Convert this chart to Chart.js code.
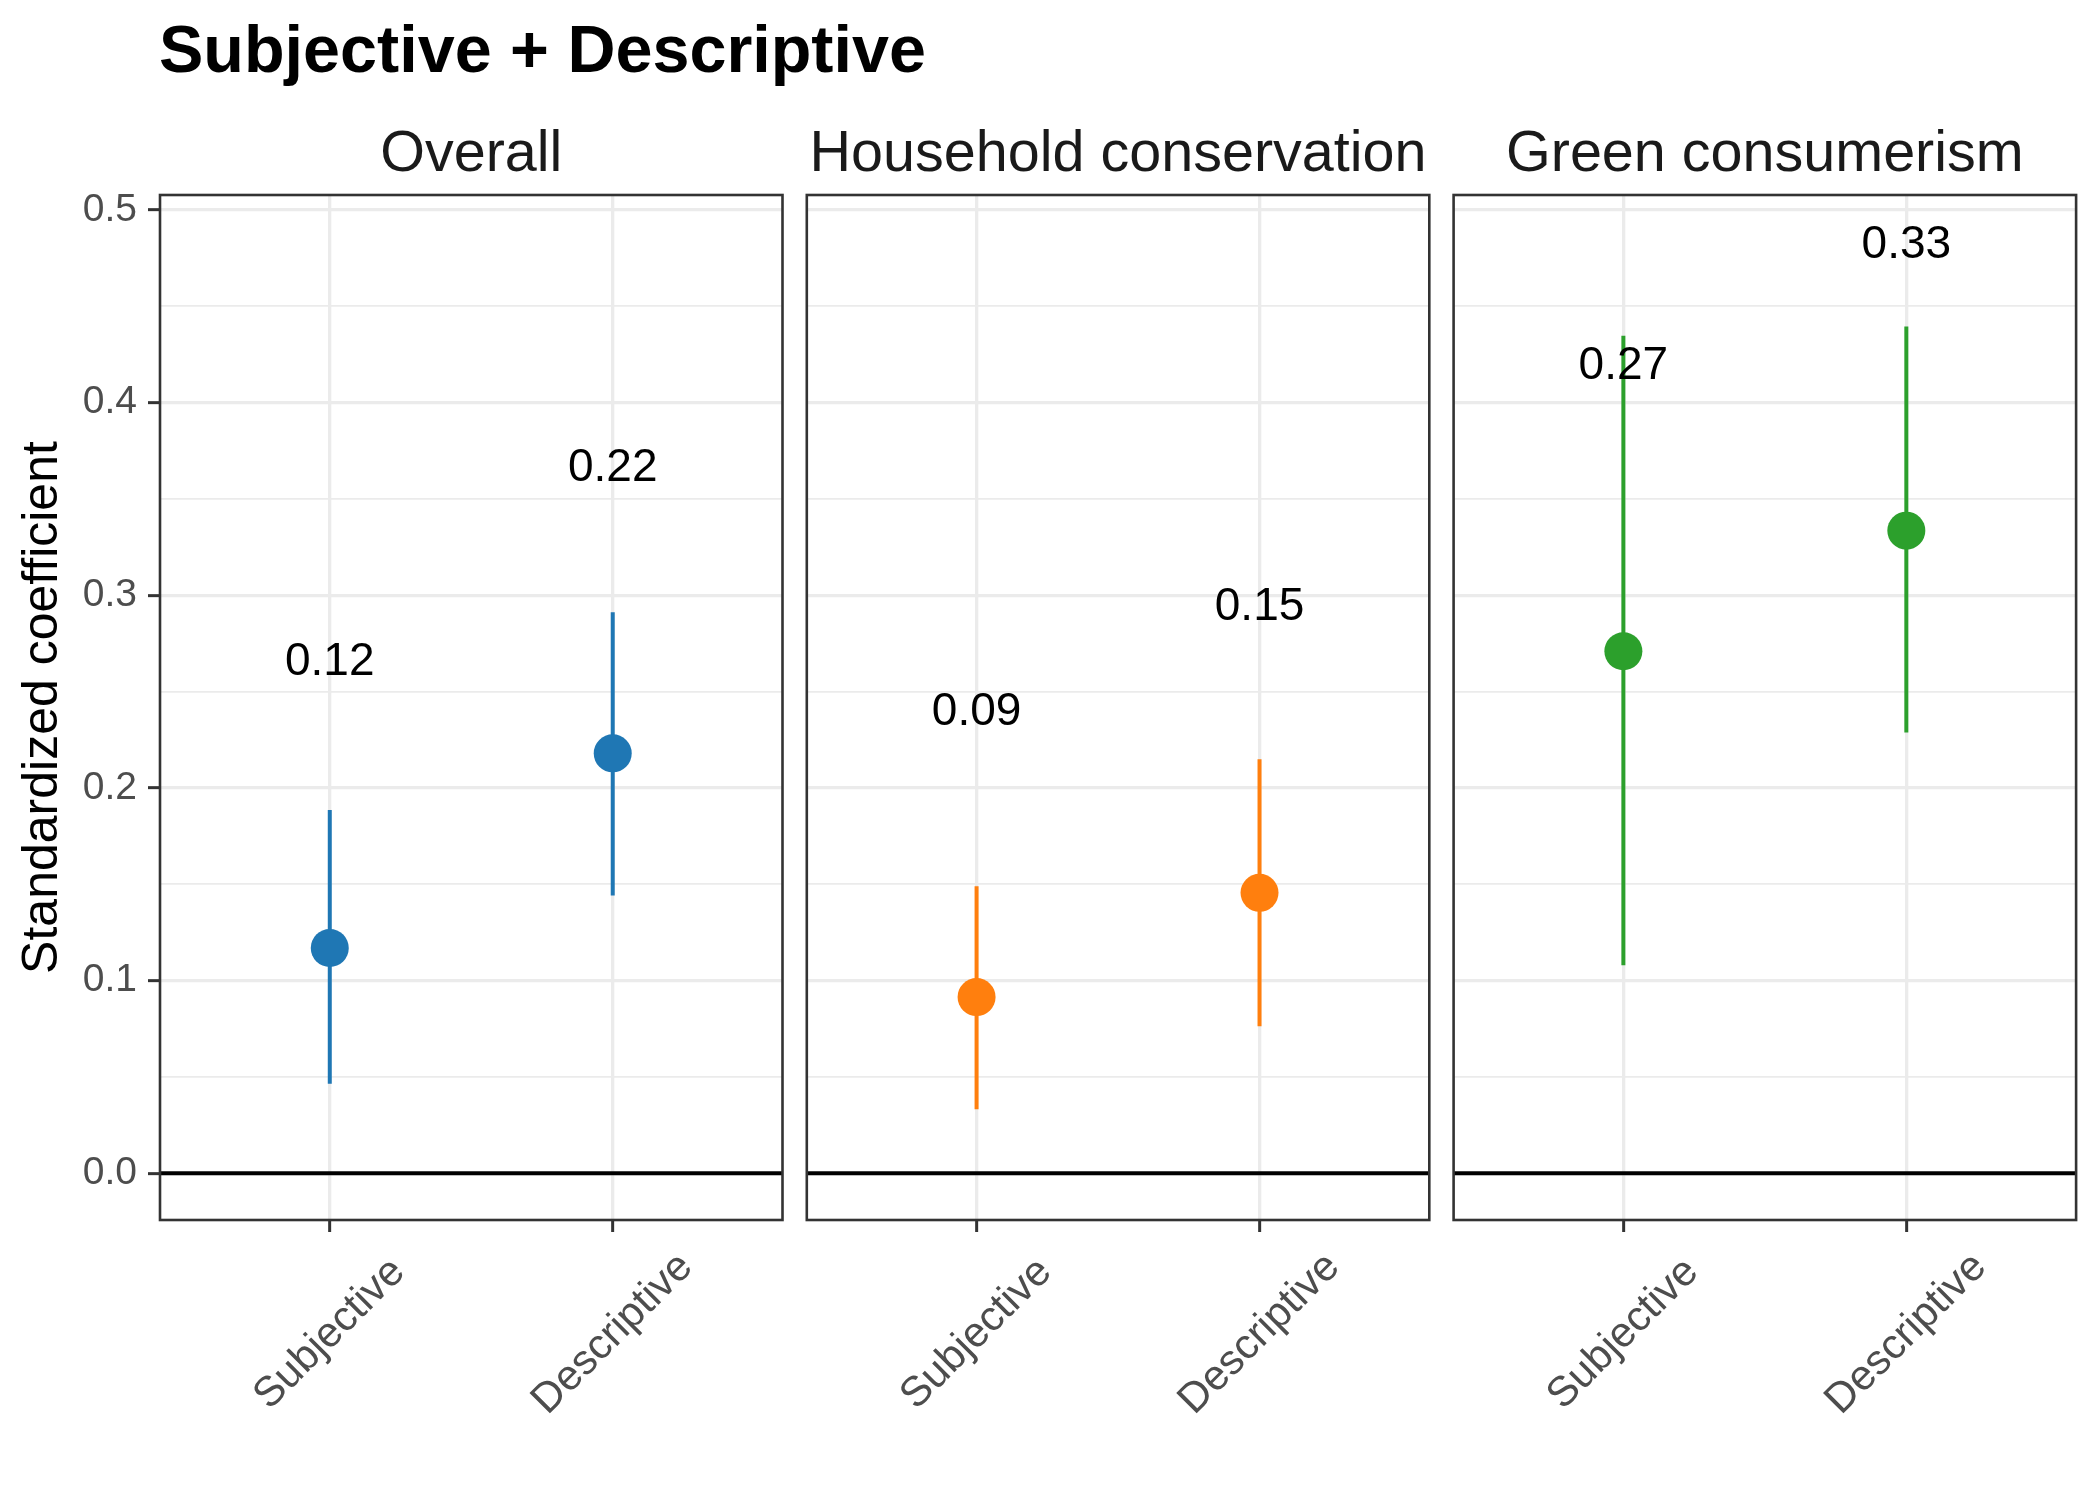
<!DOCTYPE html>
<html>
<head>
<meta charset="utf-8">
<title>Subjective + Descriptive</title>
<script src="https://cdn.jsdelivr.net/npm/chart.js@4/dist/chart.umd.min.js"></script>
<style>
  html, body { margin: 0; padding: 0; background: #ffffff; }
  #wrap { position: relative; width: 2100px; height: 1500px; }
  #wrap canvas { position: absolute; left: 0; top: 0; }
</style>
</head>
<body>
<div id="wrap">
  <canvas id="panel0" width="2100" height="1500"></canvas>
  <canvas id="panel1" width="2100" height="1500"></canvas>
  <canvas id="panel2" width="2100" height="1500"></canvas>
</div>
<script>
    // Data
    const mainTitle = 'Subjective + Descriptive';
    const yAxisTitle = 'Standardized coefficient';
    const panelTitles = ['Overall', 'Household conservation', 'Green consumerism'];
    const categories = ['Subjective', 'Descriptive'];
    const catPositions = [1, 2];

    const estimates = [
        [0.117, 0.218],
        [0.0915, 0.1456],
        [0.271, 0.3336]
    ];
    const lowerCI = [
        [0.0465, 0.1442],
        [0.0333, 0.0763],
        [0.108, 0.2288]
    ];
    const upperCI = [
        [0.1886, 0.2913],
        [0.149, 0.215],
        [0.4347, 0.4396]
    ];

    const yTicks = [0, 0.1, 0.2, 0.3, 0.4, 0.5];
    const yMinorTicks = [0.05, 0.15, 0.25, 0.35, 0.45];
    const referenceLine = 0;
    const labelOffset = 0.15;

    // Look and layout
    const panelColors = ['#1f77b4', '#ff7f0e', '#2ca02c'];
    const panelLeft = [160, 806.8, 1453.6];
    const panelWidth = 622.5;
    const plotTop = 195;
    const plotBottom = 1220;
    const yMin = -0.0242, yMax = 0.5078;
    const xMin = 0.4, xMax = 2.6;
    const FONT = '"Liberation Sans", Arial, Helvetica, sans-serif';

    Chart.defaults.font.family = FONT;

    const facetPlugin = {
        id: 'facet',
        beforeDatasetsDraw(chart) {
            // horizontal reference line at zero
            const { ctx, chartArea: a, scales: { y } } = chart;
            const yy = y.getPixelForValue(referenceLine);
            ctx.save();
            ctx.strokeStyle = '#000000';
            ctx.lineWidth = 4;
            ctx.beginPath();
            ctx.moveTo(a.left, yy);
            ctx.lineTo(a.right, yy);
            ctx.stroke();
            ctx.restore();
        },
        afterDraw(chart, args, opts) {
            const p = opts.panel;
            const { ctx, chartArea: a, scales: { x, y } } = chart;
            ctx.save();

            // panel border
            ctx.strokeStyle = '#333333';
            ctx.lineWidth = 2.6;
            ctx.strokeRect(a.left, a.top, a.right - a.left, a.bottom - a.top);

            // value labels above each estimate (digits centred on est + offset)
            const labelSize = 46;
            ctx.fillStyle = '#000000';
            ctx.font = labelSize + 'px ' + FONT;
            ctx.textAlign = 'center';
            ctx.textBaseline = 'alphabetic';
            estimates[p].forEach((est, k) => {
                const px = x.getPixelForValue(catPositions[k]);
                const py = y.getPixelForValue(est + labelOffset);
                ctx.fillText(est.toFixed(2), px, py + 0.358 * labelSize);
            });

            // rotated category labels, centred under each tick
            ctx.fillStyle = '#4d4d4d';
            ctx.font = '42px ' + FONT;
            ctx.textBaseline = 'middle';
            categories.forEach((cat, k) => {
                const px = x.getPixelForValue(catPositions[k]);
                ctx.save();
                ctx.translate(px, a.bottom + 114);
                ctx.rotate(-Math.PI / 4);
                ctx.fillText(cat, 0, 0);
                ctx.restore();
            });

            // strip title
            ctx.fillStyle = '#1a1a1a';
            ctx.font = '57.5px ' + FONT;
            ctx.textBaseline = 'alphabetic';
            ctx.fillText(panelTitles[p], (a.left + a.right) / 2, 171);

            // plot title, once
            if (p === 0) {
                ctx.fillStyle = '#000000';
                ctx.font = 'bold 66.5px ' + FONT;
                ctx.textAlign = 'left';
                ctx.fillText(mainTitle, 159, 72);
            }
            ctx.restore();
        }
    };

    function makePanel(p) {
        const errorData = [];
        const pointData = [];
        catPositions.forEach((pos, k) => {
            errorData.push({ x: pos, y: lowerCI[p][k] });
            errorData.push({ x: pos, y: upperCI[p][k] });
            errorData.push({ x: pos, y: null });
            pointData.push({ x: pos, y: estimates[p][k] });
        });

        const isMajor = v => yTicks.includes(v);
        const first = p === 0;

        return new Chart(document.getElementById('panel' + p), {
            type: 'scatter',
            data: {
                datasets: [
                    {
                        label: 'estimate',
                        data: pointData,
                        order: 0,
                        pointRadius: 19,
                        pointHoverRadius: 19,
                        pointBorderWidth: 0,
                        backgroundColor: panelColors[p],
                        borderColor: panelColors[p]
                    },
                    {
                        label: 'interval',
                        type: 'line',
                        data: errorData,
                        order: 1,
                        showLine: true,
                        spanGaps: false,
                        pointRadius: 0,
                        borderWidth: 4,
                        borderColor: panelColors[p],
                        fill: false
                    }
                ]
            },
            options: {
                responsive: false,
                animation: false,
                devicePixelRatio: 1,
                layout: {
                    padding: {
                        left: first ? 0 : panelLeft[p],
                        right: 2100 - panelLeft[p] - panelWidth,
                        top: plotTop,
                        bottom: 1500 - plotBottom
                    }
                },
                plugins: {
                    legend: { display: false },
                    tooltip: { enabled: false },
                    facet: { panel: p }
                },
                scales: {
                    x: {
                        type: 'linear',
                        min: xMin,
                        max: xMax,
                        afterBuildTicks: s => { s.ticks = catPositions.map(v => ({ value: v })); },
                        ticks: { display: false },
                        grid: {
                            color: '#ebebeb',
                            lineWidth: 3.3,
                            drawTicks: true,
                            tickLength: 12,
                            tickWidth: 3,
                            tickColor: '#333333'
                        },
                        border: { display: false },
                        afterFit: s => { s.height = 0; s.paddingLeft = 0; s.paddingRight = 0; }
                    },
                    y: {
                        type: 'linear',
                        min: yMin,
                        max: yMax,
                        afterBuildTicks: s => {
                            s.ticks = yTicks.concat(yMinorTicks).sort((a, b) => a - b).map(v => ({ value: v }));
                        },
                        ticks: {
                            display: first,
                            autoSkip: false,
                            padding: 11,
                            color: '#4d4d4d',
                            font: { size: 39 },
                            callback: v => isMajor(v) ? v.toFixed(1) : ''
                        },
                        grid: {
                            color: '#ebebeb',
                            lineWidth: c => isMajor(c.tick.value) ? 3.3 : 1.8,
                            drawTicks: first,
                            tickLength: 12,
                            tickWidth: 3,
                            tickColor: c => isMajor(c.tick.value) ? '#333333' : 'rgba(0,0,0,0)'
                        },
                        border: { display: false },
                        title: {
                            display: first,
                            text: yAxisTitle,
                            color: '#000000',
                            font: { size: 50 },
                            padding: { top: 13, bottom: 0 }
                        },
                        afterFit: s => { s.width = first ? 160 : 0; s.paddingTop = 0; s.paddingBottom = 0; }
                    }
                }
            },
            plugins: [facetPlugin]
        });
    }

    panelTitles.forEach((_, p) => makePanel(p));
</script>
</body>
</html>
